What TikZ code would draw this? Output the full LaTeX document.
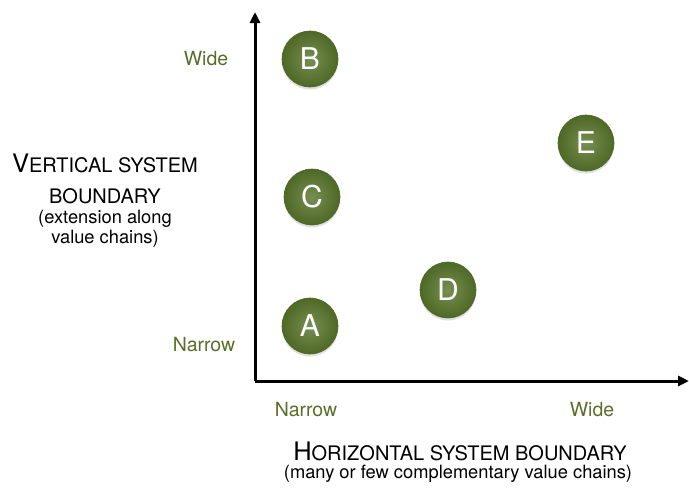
\documentclass[tikz,border=0pt]{standalone}
\usepackage{fontspec}
\setmainfont{TeX Gyre Heros}
\usetikzlibrary{arrows.meta,shadows}
\definecolor{olive}{HTML}{5F7B33}
\definecolor{oliveedge}{HTML}{4E6826}
\definecolor{olivetext}{HTML}{5A6E2A}
\newcommand{\initcap}[1]{{\fontsize{25.5}{27}\selectfont #1}}
\tikzset{
  ball/.style={circle, minimum size=56pt, inner sep=0pt, draw=oliveedge, line width=0.6pt,
    shading=radial, inner color=olive!85!white, outer color=oliveedge,
    drop shadow={opacity=0.25, shadow xshift=0pt, shadow yshift=-2.5pt},
    text=white, font=\fontsize{30}{31}\selectfont},
  tick/.style={text=olivetext, font=\fontsize{19.5}{22}\selectfont},
  axistitle/.style={align=center, inner sep=0pt, font=\fontsize{20}{31}\selectfont},
  axisnote/.style={align=center, inner sep=0pt, font=\fontsize{18.3}{20}\selectfont},
  axis/.style={line width=3pt, line join=miter, -{Triangle[length=11pt,width=10pt]}}
}
\begin{document}
\begin{tikzpicture}[x=1pt,y=-1pt]
\useasboundingbox (0,0) rectangle (689,488);

% axes
\coordinate (origin) at (255,381);
\coordinate (ytip) at (255,12);
\coordinate (xtip) at (689,381);
\draw[axis] (origin) -- (ytip);
\draw[axis] (origin) -- (xtip);

% tick labels
\node[tick] (ywide) at (206,59) {Wide};
\node[tick] (ynarrow) at (204,345) {Narrow};
\node[tick] (xnarrow) at (306,410) {Narrow};
\node[tick] (xwide) at (592,410) {Wide};

% axis titles
\node[axistitle] (ytitle) at (105,179) {\initcap{V}ERTICAL SYSTEM\\BOUNDARY};
\node[axisnote] (ynote) at (105,229) {(extension along\\value chains)};
\node[axistitle] (xtitle) at (460,451) {\initcap{H}ORIZONTAL SYSTEM BOUNDARY};
\node[axisnote] (xnote) at (458,474) {(many or few complementary value chains)};

% positions
\node[ball] (B) at (310,59) {B};
\node[ball] (C) at (312,197) {C};
\node[ball] (A) at (310,326) {A};
\node[ball] (D) at (448,290) {D};
\node[ball] (E) at (586,143) {E};

\end{tikzpicture}
\end{document}
